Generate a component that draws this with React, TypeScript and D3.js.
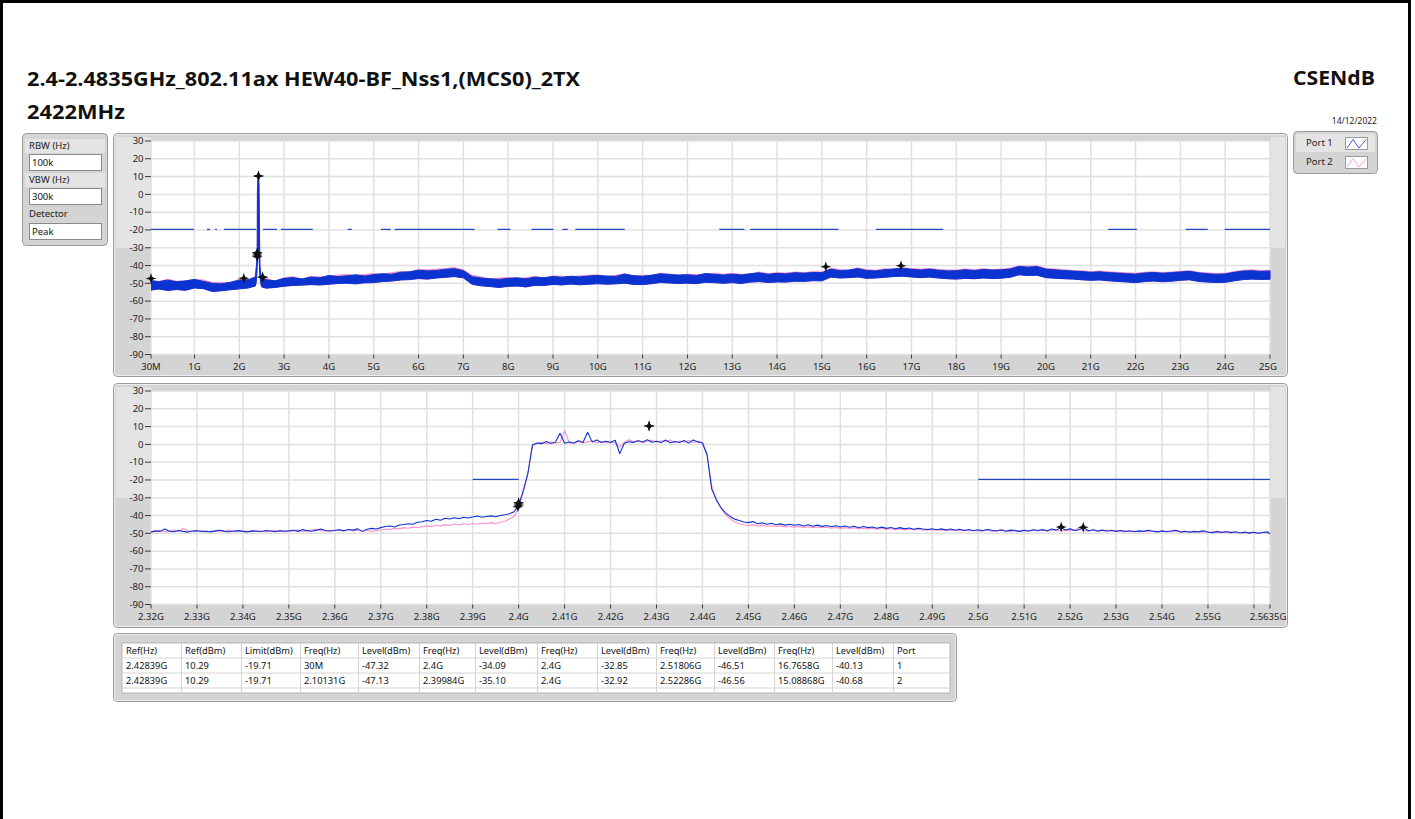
import React from "react";
import * as d3 from "d3";

// ---------------- Data ----------------
// Top chart (30 MHz - 25 GHz), envelope of the dense trace sampled every 0.2 GHz (first point 30 MHz)
const topBlueUpper = [
  -48.5, -49.0, -48.2, -49.1, -48.6,
  -47.8, -48.9, -50.0, -50.3, -49.4,
  -48.2, -48.0, -36.0, -48.0, -48.6,
  -47.2, -46.8, -47.5, -46.5, -46.9,
  -45.6, -46.2, -45.8, -45.2, -45.9,
  -45.1, -44.6, -44.9, -43.8, -43.5,
  -42.6, -43.0, -42.8, -42.1, -41.8,
  -42.8, -46.3, -47.0, -47.4, -47.8,
  -47.2, -46.9, -47.5, -46.5, -46.8,
  -46.2, -46.6, -46.0, -46.4, -45.9,
  -45.6, -45.9, -46.1, -44.8, -45.7,
  -46.0, -45.4, -44.6, -45.1, -45.3,
  -45.2, -45.6, -44.5, -44.9, -45.3,
  -44.8, -45.3, -44.6, -44.1, -44.9,
  -44.4, -44.7, -44.0, -44.3, -43.9,
  -44.0, -42.0, -42.8, -42.5, -41.7,
  -42.8, -43.0, -42.3, -41.9, -41.5,
  -42.1, -42.5, -42.0, -42.6, -43.0,
  -42.9, -42.3, -42.8, -42.2, -42.5,
  -42.4, -41.9, -40.5, -40.9, -40.6,
  -42.0, -42.4, -42.8, -43.1, -43.4,
  -43.8, -43.5, -44.0, -44.2, -44.6,
  -44.8, -44.2, -43.9, -44.3, -44.0,
  -43.6, -43.2, -44.1, -44.6, -44.9,
  -44.7, -43.8, -43.1, -42.9, -43.3,
  -43.0,
];
const topBlueLower = [
  -53.8, -53.2, -54.0, -53.5, -53.9,
  -52.6, -53.0, -54.6, -54.2, -53.6,
  -53.1, -52.6, -48.0, -52.7, -52.3,
  -51.6, -51.2, -51.0, -50.7, -50.9,
  -50.5, -50.1, -49.9, -50.3, -49.7,
  -49.6, -49.0, -48.7, -48.1, -47.9,
  -47.3, -47.6, -47.0, -46.6, -46.2,
  -46.9, -50.6, -51.4, -51.8, -52.3,
  -51.7, -51.5, -52.0, -51.1, -51.2,
  -50.6, -50.9, -50.4, -50.8, -50.5,
  -50.2, -50.5, -50.3, -49.9, -50.6,
  -50.7, -50.2, -49.5, -49.8, -50.1,
  -49.9, -50.2, -49.4, -49.6, -50.0,
  -49.6, -50.1, -49.3, -49.0, -49.5,
  -49.2, -49.3, -48.8, -48.9, -48.5,
  -48.6, -46.5, -47.0, -46.8, -46.4,
  -47.2, -47.0, -46.6, -46.2, -46.0,
  -46.4, -46.8, -46.5, -47.0, -47.4,
  -47.6, -47.2, -47.4, -47.0, -47.3,
  -47.1, -46.6, -45.2, -45.6, -45.4,
  -46.8, -47.1, -47.4, -47.6, -48.0,
  -48.3, -48.1, -48.6, -48.9, -49.2,
  -49.6, -49.0, -48.7, -49.1, -48.8,
  -48.3, -48.0, -48.9, -49.3, -49.5,
  -49.4, -48.6, -47.9, -47.6, -47.8,
  -47.7,
];
const topPinkUpper = [
  -48.0, -49.3, -47.6, -48.8, -48.9,
  -47.9, -48.1, -49.6, -49.4, -49.8,
  -47.5, -48.3, -40.0, -47.2, -48.9,
  -46.9, -46.2, -47.8, -46.0, -46.4,
  -45.9, -45.4, -45.1, -45.6, -45.0,
  -44.5, -44.9, -44.0, -43.3, -43.8,
  -42.2, -42.4, -42.0, -41.8, -41.0,
  -42.5, -45.5, -46.4, -47.8, -47.0,
  -46.7, -47.3, -46.8, -46.1, -47.2,
  -45.8, -46.0, -46.3, -45.8, -45.4,
  -45.2, -46.2, -45.4, -44.6, -45.9,
  -45.4, -45.7, -44.3, -44.7, -45.6,
  -44.8, -45.1, -44.9, -44.3, -44.9,
  -44.4, -44.9, -44.9, -43.6, -44.5,
  -44.0, -44.2, -43.6, -44.0, -43.4,
  -43.6, -41.6, -42.3, -42.9, -41.3,
  -42.3, -42.6, -41.8, -42.2, -41.2,
  -41.7, -42.0, -41.6, -42.2, -42.5,
  -42.5, -41.9, -42.3, -41.8, -42.2,
  -42.0, -41.5, -40.2, -40.4, -40.1,
  -41.6, -41.9, -42.3, -42.8, -42.9,
  -43.4, -43.1, -43.5, -43.8, -44.1,
  -44.3, -43.8, -43.5, -43.9, -43.6,
  -43.2, -42.9, -43.7, -44.1, -44.5,
  -44.3, -43.4, -42.7, -42.4, -42.9,
  -42.6,
];
// carrier spike detail (GHz)
const topPeakFreq = [2.36, 2.38, 2.395, 2.4, 2.405, 2.415, 2.428, 2.44, 2.45, 2.46, 2.48, 2.5];
const topPeakUpper = [-46.5, -41, -36, -33, 2, 8, 10.3, 6, -20, -40, -45.5, -47];
const topPeakLower = [-51.5, -49, -43, -40, -36, -34, -34, -35, -40, -46, -50, -52];
const topPeakPink = [-46, -40.5, -35.5, -32.5, 3, 9, 10.3, 6.5, -19, -39, -45, -46.5];

// Bottom chart (2.32 - 2.5635 GHz), 1 MHz steps, last point at 2.5635 GHz
const botBlue = [
  -49.2, -48.6, -48.9, -47.6, -48.8, -49.1, -48.4, -48.9, -49.3, -48.7,
  -48.5, -49.0, -48.8, -49.2, -48.6, -48.3, -48.9, -49.1, -48.7, -48.5,
  -48.9, -49.2, -48.6, -48.8, -49.0, -48.4, -48.7, -49.1, -48.5, -48.8,
  -48.6, -48.3, -48.9, -47.9, -48.5, -48.8, -48.2, -47.6, -48.4, -48.7,
  -48.3, -48.0, -48.6, -47.8, -48.2, -47.5, -48.9, -47.7, -47.2, -47.6,
  -46.8, -46.2, -45.9, -46.4, -45.3, -45.0, -44.6, -44.9, -43.8, -43.5,
  -42.8, -43.2, -42.1, -42.6, -41.5, -41.9, -41.2, -41.8, -41.0, -41.4,
  -40.8, -40.3, -41.0, -40.5, -40.2, -40.7, -40.0, -39.6, -39.0, -37.8,
  -34.3, -26.0, -16.5, -0.4, 0.8, 0.4, 1.6, 0.5, 1.2, 6.2,
  0.6, 1.3, 0.8, 2.1, 1.0, 6.8, 1.4, 2.5, 1.1, 1.8,
  1.0, 2.3, -5.2, 0.6, 1.5, 1.1, 2.0, 1.3, 2.6, 1.2,
  1.8, 1.0, 2.4, 0.9, 1.6, 1.1, 2.2, 0.7, 2.5, 1.4,
  0.8, -6.0, -25.0, -31.0, -35.5, -38.5, -40.5, -42.0, -42.8, -43.6,
  -44.0, -43.4, -44.6, -44.1, -44.9, -44.3, -45.2, -44.7, -45.4, -44.9,
  -45.5, -45.0, -45.9, -45.2, -46.0, -45.4, -46.1, -45.6, -46.3, -45.7,
  -46.4, -45.9, -46.6, -46.0, -46.9, -46.2, -46.8, -46.4, -47.1, -46.5,
  -47.2, -46.7, -47.4, -46.8, -47.5, -47.0, -47.7, -47.1, -47.6, -47.9,
  -47.4, -48.0, -47.5, -48.2, -47.6, -48.3, -47.7, -48.4, -47.8, -48.5,
  -48.0, -48.6, -47.8, -48.3, -48.7, -48.1, -48.8, -48.2, -48.5, -48.9,
  -48.3, -48.7, -48.0, -48.4, -47.9, -48.6, -47.6, -48.2, -46.8, -48.1,
  -47.5, -48.4, -47.9, -46.9, -48.5, -48.0, -48.7, -48.2, -48.8, -48.3,
  -48.9, -48.4, -49.0, -48.5, -49.1, -48.6, -48.9, -48.3, -48.8, -49.2,
  -48.6, -49.1, -48.7, -48.3, -49.3, -48.8, -49.4, -48.9, -49.2, -48.6,
  -49.3, -49.7, -48.9, -49.5, -49.0, -49.6, -49.1, -49.8, -49.3, -49.9,
  -49.4, -50.0, -49.5, -49.2, -50.3,
];
const botPink = [
  -49.5, -48.9, -48.4, -49.2, -48.6, -48.1, -49.0, -47.2, -48.6, -49.1,
  -48.8, -48.4, -49.3, -48.7, -49.0, -48.6, -48.9, -48.2, -49.1, -48.8,
  -48.6, -48.9, -49.1, -48.5, -48.8, -49.2, -48.6, -48.3, -48.9, -48.7,
  -48.8, -48.5, -48.2, -48.9, -48.6, -48.1, -47.8, -48.5, -48.8, -48.4,
  -48.7, -48.2, -48.5, -48.0, -48.6, -48.3, -48.8, -48.4, -48.9, -48.5,
  -48.1, -47.6, -47.9, -47.2, -47.5, -46.8, -47.1, -46.5, -46.9, -46.2,
  -45.8, -46.3, -45.5, -45.9, -45.1, -45.6, -44.8, -45.3, -44.6, -45.0,
  -44.5, -44.9, -44.2, -44.6, -44.0, -44.5, -43.8, -43.2, -42.0, -40.5,
  -35.5, -27.0, -16.5, -1.0, 0.6, 1.2, 0.3, 1.5, 0.8, 1.1,
  7.8, 1.0, 0.5, 1.8, 0.9, 1.4, 2.0, 0.8, 1.6, 1.0,
  1.5, 0.8, -1.5, 1.2, 2.6, 1.4, 2.1, 0.9, 1.8, 2.3,
  1.2, 2.0, 1.5, 2.5, 1.1, 1.9, 1.3, 2.2, 1.0, 1.8,
  1.1, -5.0, -23.0, -31.5, -35.5, -39.5, -41.8, -43.5, -44.6, -45.2,
  -45.6, -45.1, -45.9, -45.4, -46.0, -45.6, -46.2, -45.8, -46.4, -46.0,
  -46.5, -46.1, -46.7, -46.3, -46.8, -46.4, -46.9, -46.6, -47.1, -46.7,
  -47.2, -46.8, -47.3, -46.9, -47.5, -47.1, -47.6, -47.2, -47.7, -47.3,
  -47.8, -47.4, -47.9, -47.5, -48.0, -47.6, -48.1, -47.7, -48.2, -47.8,
  -48.3, -47.9, -48.4, -48.0, -48.5, -48.1, -48.6, -48.2, -48.7, -48.3,
  -48.8, -48.4, -48.1, -48.9, -48.5, -47.9, -48.6, -48.9, -48.3, -48.7,
  -48.5, -48.9, -48.2, -48.6, -48.1, -48.8, -48.4, -48.0, -48.6, -48.3,
  -48.7, -48.1, -46.9, -48.5, -48.8, -48.3, -48.9, -48.5, -48.2, -48.8,
  -48.5, -48.9, -48.6, -49.1, -48.7, -49.2, -48.8, -49.0, -48.6, -48.9,
  -49.1, -48.7, -49.2, -48.8, -48.9, -49.3, -48.9, -49.4, -49.0, -49.2,
  -49.5, -49.1, -49.6, -49.2, -49.7, -49.3, -49.8, -49.4, -49.9, -49.5,
  -49.6, -50.0, -49.4, -49.8, -50.6,
];

const limitLevel = -19.71;
const topLimitSegments = [
  [0.03, 0.99], [1.28, 1.35], [1.46, 1.5], [1.66, 2.37], [2.41, 2.46], [2.53, 2.84],
  [2.93, 3.64], [4.42, 4.51], [5.16, 5.38], [5.47, 7.25], [7.76, 8.05], [8.52, 9.01],
  [9.21, 9.33], [9.5, 10.6], [12.71, 13.27], [13.4, 15.37], [16.21, 17.71],
  [21.39, 22.03], [23.12, 23.61], [23.99, 25.0],
];
const botLimitSegments = [[2.39, 2.4], [2.5, 2.5635]];

// markers (GHz, dBm)
const port1MarkerFreq = [2.42839, 0.03, 2.4, 2.4, 2.51806, 16.7658];
const port1MarkerLevel = [10.29, -47.32, -34.09, -32.85, -46.51, -40.13];
const port2MarkerFreq = [2.42839, 2.10131, 2.39984, 2.4, 2.52286, 15.08868];
const port2MarkerLevel = [10.29, -47.13, -35.1, -32.92, -46.56, -40.68];

const topTickValues = [0.03, 1, 2, 3, 4, 5, 6, 7, 8, 9, 10, 11, 12, 13, 14, 15, 16, 17, 18, 19, 20, 21, 22, 23, 24, 25];
const topTickLabels = ["30M", "1G", "2G", "3G", "4G", "5G", "6G", "7G", "8G", "9G", "10G", "11G", "12G", "13G", "14G", "15G", "16G", "17G", "18G", "19G", "20G", "21G", "22G", "23G", "24G", "25G"];
const botTickValues = [2.32, 2.33, 2.34, 2.35, 2.36, 2.37, 2.38, 2.39, 2.4, 2.41, 2.42, 2.43, 2.44, 2.45, 2.46, 2.47, 2.48, 2.49, 2.5, 2.51, 2.52, 2.53, 2.54, 2.55, 2.56, 2.5635];
const botTickLabels = ["2.32G", "2.33G", "2.34G", "2.35G", "2.36G", "2.37G", "2.38G", "2.39G", "2.4G", "2.41G", "2.42G", "2.43G", "2.44G", "2.45G", "2.46G", "2.47G", "2.48G", "2.49G", "2.5G", "2.51G", "2.52G", "2.53G", "2.54G", "2.55G", "", "2.5635G"];
const yTickValues = [30, 20, 10, 0, -10, -20, -30, -40, -50, -60, -70, -80, -90];

const tableHeaders = ["Ref(Hz)", "Ref(dBm)", "Limit(dBm)", "Freq(Hz)", "Level(dBm)", "Freq(Hz)", "Level(dBm)", "Freq(Hz)", "Level(dBm)", "Freq(Hz)", "Level(dBm)", "Freq(Hz)", "Level(dBm)", "Port"];
const tableRow1 = ["2.42839G", "10.29", "-19.71", "30M", "-47.32", "2.4G", "-34.09", "2.4G", "-32.85", "2.51806G", "-46.51", "16.7658G", "-40.13", "1"];
const tableRow2 = ["2.42839G", "10.29", "-19.71", "2.10131G", "-47.13", "2.39984G", "-35.10", "2.4G", "-32.92", "2.52286G", "-46.56", "15.08868G", "-40.68", "2"];

// ---------------- Styling ----------------
const UI = "'Noto Sans', 'Open Sans', sans-serif";
const BLUE = "#0b33d0";
const PINK = "#ff90cc";
const LIMIT = "#2447c4";
const GRID = "#e0e0e0";
const PANEL = "#d4d4d4";
const PANEL_LIGHT = "#e4e4e4";

type Scale = d3.ScaleLinear<number, number>;

function Star({ x, y }: { x: number; y: number }) {
  return (
    <g transform={`translate(${x},${y})`}>
      <path d="M0,-5.5 L1.3,-1.3 L5.5,0 L1.3,1.3 L0,5.5 L-1.3,1.3 L-5.5,0 L-1.3,-1.3 Z" fill="#111" />
      <circle r={2.1} fill="#111" />
    </g>
  );
}

function ChartPanel(props: {
  id: string;
  py: number;
  ph: number;
  plotTop: number;
  plotBottom: number;
  x: Scale;
  tickValues: number[];
  tickLabels: string[];
  render: (x: Scale, y: Scale) => React.ReactNode;
  markers: (x: Scale, y: Scale) => React.ReactNode;
}) {
  const { id, py, ph, plotTop, plotBottom, x, tickValues, tickLabels } = props;
  const y = d3.scaleLinear().domain([-90, 30]).range([plotBottom, plotTop]);
  const [x0, x1] = x.range();
  return (
    <g>
      <rect x={113.5} y={py + 0.5} width={1174} height={ph} rx={4} fill={PANEL} stroke="#9a9a9a" />
      <rect x={114.5} y={py + 1.5} width={1172} height={ph - 2} rx={3} fill="none" stroke="#ececec" />
      <rect x={116} y={py + 4} width={x0 - 116} height={y(-30) - py - 4} fill={PANEL_LIGHT} />
      <rect x={x1 + 1} y={py + 4} width={1285 - x1 - 1} height={y(-30) - py - 4} fill={PANEL_LIGHT} />
      <rect x={x0} y={plotTop} width={x1 - x0} height={plotBottom - plotTop} fill="#ffffff" />
      <defs>
        <clipPath id={id}>
          <rect x={x0} y={plotTop} width={x1 - x0 + 1} height={plotBottom - plotTop} />
        </clipPath>
      </defs>
      {yTickValues.map((v) => (
        <line key={"gy" + v} x1={x0} x2={x1} y1={y(v)} y2={y(v)} stroke={GRID} strokeWidth={1.5} />
      ))}
      {tickValues.map((v) => (
        <line key={"gx" + v} x1={x(v)} x2={x(v)} y1={plotTop} y2={plotBottom} stroke={GRID} strokeWidth={1.5} />
      ))}
      {yTickValues.map((v) => (
        <g key={"ty" + v}>
          <line x1={145} x2={x0} y1={y(v)} y2={y(v)} stroke="#3a3a3a" strokeWidth={1} />
          <text x={143.5} y={y(v)} dy="0.35em" textAnchor="end" fontFamily={UI} fontSize={9.5} fill="#222">
            {v}
          </text>
        </g>
      ))}
      {tickValues.map((v, i) => (
        <g key={"tx" + v}>
          <line x1={x(v)} x2={x(v)} y1={plotBottom} y2={plotBottom + 4} stroke="#3a3a3a" strokeWidth={1} />
          <text
            x={i === tickValues.length - 1 ? x(v) - 2 : x(v)}
            y={plotBottom + 12}
            dy="0.35em"
            textAnchor="middle"
            fontFamily={UI}
            fontSize={9.5}
            fill="#222"
          >
            {tickLabels[i]}
          </text>
        </g>
      ))}
      <g clipPath={`url(#${id})`}>{props.render(x, y)}</g>
      {props.markers(x, y)}
    </g>
  );
}

export default function App() {
  // ----- top chart data records -----
  const topFreq = topBlueUpper.map((_, i) => (i === 0 ? 0.03 : i * 0.2));
  const topRecords = topFreq
    .map((f, i) => ({ f, up: topBlueUpper[i], lo: topBlueLower[i], pu: topPinkUpper[i] }))
    .filter((r) => r.f < 2.33 || r.f > 2.55)
    .concat(topPeakFreq.map((f, i) => ({ f, up: topPeakUpper[i], lo: topPeakLower[i], pu: topPeakPink[i] })))
    .sort((a, b) => a.f - b.f);

  const botFreq = botBlue.map((_, i) => (i < 244 ? 2.32 + i * 0.001 : 2.5635));

  const topX = d3.scaleLinear().domain([0.03, 25]).range([151, 1270]);
  const botX = d3.scaleLinear().domain([2.32, 2.5635]).range([151, 1270]);

  type Rec = { f: number; up: number; lo: number; pu: number };

  const allMarkers = [
    ...port1MarkerFreq.map((f, i) => ({ f, v: port1MarkerLevel[i] })),
    ...port2MarkerFreq.map((f, i) => ({ f, v: port2MarkerLevel[i] })),
  ];

  const renderMarkers = (x: Scale, y: Scale) => {
    const [d0, d1] = x.domain();
    return allMarkers
      .filter((m) => m.f >= d0 && m.f <= d1)
      .map((m, i) => <Star key={"m" + i} x={x(m.f)} y={y(m.v)} />);
  };

  const colEdges = [122, 181, 241, 300, 358, 419, 475, 537, 597, 656, 714, 774, 832, 893, 950];

  return (
    <div style={{ position: "absolute", left: 0, top: 0, width: 1415, height: 819, background: "#fff" }}>
      <svg width={1415} height={819} style={{ display: "block" }}>
        <rect x={0} y={0} width={1415} height={819} fill="#ffffff" />
        <rect x={1.5} y={1.5} width={1408} height={850} fill="none" stroke="#000" strokeWidth={3} />

        {/* Titles */}
        <text x={27} y={86} fontFamily="'Open Sans', sans-serif" fontWeight={700} fontSize={20} fill="#111" textLength={553} lengthAdjust="spacingAndGlyphs">
          2.4-2.4835GHz_802.11ax HEW40-BF_Nss1,(MCS0)_2TX
        </text>
        <text x={27} y={119} fontFamily="'Open Sans', sans-serif" fontWeight={700} fontSize={20} fill="#111" textLength={98} lengthAdjust="spacingAndGlyphs">
          2422MHz
        </text>
        <text x={1375} y={85} textAnchor="end" fontFamily="'Open Sans', sans-serif" fontWeight={700} fontSize={20} fill="#111" textLength={82} lengthAdjust="spacingAndGlyphs">
          CSENdB
        </text>
        <text x={1377} y={124} textAnchor="end" fontFamily={UI} fontSize={8.5} fill="#222">
          14/12/2022
        </text>

        {/* Side settings panel */}
        <g>
          <rect x={22.5} y={133.5} width={85} height={112} rx={4} fill={PANEL} stroke="#9a9a9a" />
          <rect x={25} y={139} width={80} height={14} fill={PANEL_LIGHT} />
          <rect x={25} y={173} width={80} height={14} fill={PANEL_LIGHT} />
          <text x={29} y={146} dy="0.35em" fontFamily={UI} fontSize={9.5} fill="#222">RBW (Hz)</text>
          <rect x={29.5} y={154.5} width={72} height={16} fill="#fff" stroke="#8a8a8a" />
          <text x={32} y={162.5} dy="0.35em" fontFamily={UI} fontSize={9.5} fill="#111">100k</text>
          <text x={29} y={180} dy="0.35em" fontFamily={UI} fontSize={9.5} fill="#222">VBW (Hz)</text>
          <rect x={29.5} y={188.5} width={72} height={16} fill="#fff" stroke="#8a8a8a" />
          <text x={32} y={196.5} dy="0.35em" fontFamily={UI} fontSize={9.5} fill="#111">300k</text>
          <text x={29} y={214} dy="0.35em" fontFamily={UI} fontSize={9.5} fill="#222">Detector</text>
          <rect x={29.5} y={223.5} width={72} height={16} fill="#fff" stroke="#8a8a8a" />
          <text x={32} y={231.5} dy="0.35em" fontFamily={UI} fontSize={9.5} fill="#111">Peak</text>
        </g>

        {/* Legend */}
        <g>
          <rect x={1293.5} y={131.5} width={84} height={42} rx={4} fill={PANEL} stroke="#9a9a9a" />
          <rect x={1296} y={134} width={79} height={18} fill={PANEL_LIGHT} />
          <text x={1306} y={143} dy="0.35em" fontFamily={UI} fontSize={9.5} fill="#222">Port 1</text>
          <rect x={1345.5} y={137.5} width={22} height={12} fill="#fff" stroke="#9a9a9a" />
          <path d="M1347,148 L1353,139.5 L1359,148 L1366,139.5" fill="none" stroke="#3b5be0" strokeWidth={1} />
          <text x={1306} y={162} dy="0.35em" fontFamily={UI} fontSize={9.5} fill="#222">Port 2</text>
          <rect x={1345.5} y={156.5} width={22} height={12} fill="#fff" stroke="#9a9a9a" />
          <path d="M1347,167 L1353,158.5 L1359,167 L1366,158.5" fill="none" stroke="#ff9fd6" strokeWidth={1} />
        </g>

        {/* Top chart */}
        <ChartPanel
          id="clipTop"
          py={133}
          ph={243}
          plotTop={141}
          plotBottom={354.5}
          x={topX}
          tickValues={topTickValues}
          tickLabels={topTickLabels}
          markers={renderMarkers}
          render={(x, y) => {
            const pinkArea = d3
              .area<Rec>()
              .x((d) => x(d.f))
              .y0((d) => y(d.lo))
              .y1((d) => y(d.pu));
            const blueArea = d3
              .area<Rec>()
              .x((d) => x(d.f))
              .y0((d) => y(d.lo))
              .y1((d) => y(d.up));
            return (
              <g>
                {topLimitSegments.map((s, i) => (
                  <line key={"tl" + i} x1={x(s[0])} x2={x(s[1])} y1={y(limitLevel)} y2={y(limitLevel)} stroke={LIMIT} strokeWidth={1.2} />
                ))}
                <path d={pinkArea(topRecords) || ""} fill={PINK} stroke={PINK} strokeWidth={1} />
                <path d={blueArea(topRecords) || ""} fill={BLUE} stroke={BLUE} strokeWidth={1} strokeLinejoin="round" />
              </g>
            );
          }}
        />

        {/* Bottom chart */}
        <ChartPanel
          id="clipBot"
          py={383}
          ph={244}
          plotTop={391}
          plotBottom={604.5}
          x={botX}
          tickValues={botTickValues}
          tickLabels={botTickLabels}
          markers={renderMarkers}
          render={(x, y) => {
            const line = d3
              .line<number>()
              .x((_, i) => x(botFreq[i]))
              .y((d) => y(d));
            return (
              <g>
                {botLimitSegments.map((s, i) => (
                  <line key={"bl" + i} x1={x(s[0])} x2={x(s[1])} y1={y(limitLevel)} y2={y(limitLevel)} stroke={LIMIT} strokeWidth={1.2} />
                ))}
                <path d={line(botPink) || ""} fill="none" stroke={PINK} strokeWidth={1.1} strokeLinejoin="round" />
                <path d={line(botBlue) || ""} fill="none" stroke={BLUE} strokeWidth={1.1} strokeLinejoin="round" />
              </g>
            );
          }}
        />

        {/* Marker table */}
        <g>
          <rect x={113.5} y={633.5} width={843} height={68} rx={4} fill={PANEL} stroke="#9a9a9a" />
          <rect x={114.5} y={634.5} width={841} height={66} rx={3} fill="none" stroke="#ececec" />
          <rect x={122} y={643} width={828} height={50} fill="#fff" stroke="#a8a8a8" strokeWidth={0.8} />
          {[658, 673, 688].map((yy) => (
            <line key={"rl" + yy} x1={122} x2={950} y1={yy} y2={yy} stroke="#d4d4d4" />
          ))}
          {colEdges.slice(1, -1).map((xx) => (
            <line key={"cl" + xx} x1={xx + 0.5} x2={xx + 0.5} y1={643} y2={693} stroke="#d4d4d4" />
          ))}
          {[tableHeaders, tableRow1, tableRow2].map((row, r) =>
            row.map((cell, c) => (
              <text
                key={`t${r}-${c}`}
                x={colEdges[c] + 4}
                y={650.5 + r * 15}
                dy="0.35em"
                fontFamily={UI}
                fontSize={9.3}
                fill="#111"
              >
                {cell}
              </text>
            ))
          )}
        </g>
      </svg>
    </div>
  );
}
